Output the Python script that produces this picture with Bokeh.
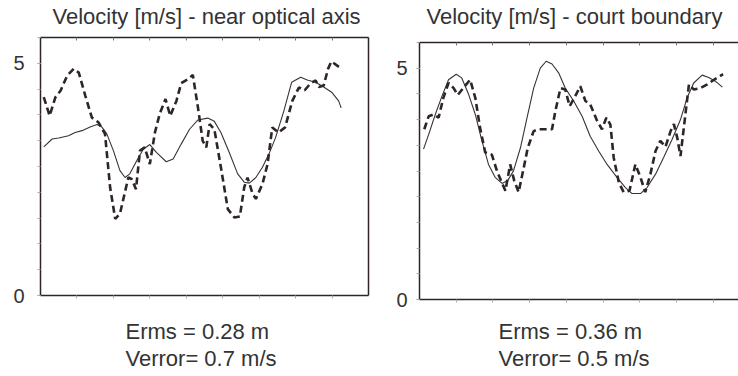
from bokeh.plotting import figure
from bokeh.layouts import row, column
from bokeh.models import Range1d, LinearAxis, FixedTicker, Title, Spacer
from bokeh.embed import file_html
from bokeh.resources import INLINE

# ---- data ----
left_true_t = [0.09, 0.32, 0.5, 0.77, 0.95, 1.14, 1.36, 1.55, 1.68, 1.82, 2.0, 2.18, 2.32, 2.45, 2.64,
               2.82, 3.0, 3.18, 3.45, 3.64, 3.86, 4.09, 4.32, 4.59, 4.77, 4.95, 5.18, 5.41, 5.59, 5.73,
               5.91, 6.09, 6.27, 6.45, 6.68, 6.89, 7.14, 7.32, 7.55, 7.77, 8.0, 8.18, 8.25]
left_true_v = [3.20, 3.37, 3.39, 3.44, 3.51, 3.55, 3.63, 3.68, 3.63, 3.48, 3.12, 2.69, 2.54, 2.62, 2.90,
               3.15, 3.25, 3.08, 2.88, 2.94, 3.26, 3.58, 3.78, 3.82, 3.75, 3.51, 3.08, 2.62, 2.44, 2.42,
               2.54, 2.76, 3.05, 3.40, 3.98, 4.59, 4.70, 4.64, 4.59, 4.49, 4.37, 4.19, 4.04]
left_est_t = [0.09, 0.25, 0.41, 0.55, 0.73, 0.91, 1.05, 1.23, 1.41, 1.59, 1.77, 1.91, 2.05, 2.18, 2.41,
              2.5, 2.62, 2.73, 2.86, 3.0, 3.14, 3.27, 3.43, 3.56, 3.73, 3.86, 4.05, 4.18, 4.32, 4.45,
              4.55, 4.64, 4.77, 4.95, 5.14, 5.32, 5.47, 5.59, 5.68, 5.82, 5.91, 6.09, 6.23, 6.36, 6.53,
              6.71, 6.91, 7.09, 7.25, 7.41, 7.55, 7.64, 7.77, 7.89, 7.98, 8.14, 8.27]
left_est_v = [4.27, 3.87, 4.27, 4.41, 4.73, 4.88, 4.80, 4.30, 3.83, 3.73, 3.48, 2.33, 1.65, 1.76, 2.54,
              2.51, 2.29, 3.12, 3.19, 2.83, 3.51, 3.91, 4.23, 3.87, 4.19, 4.57, 4.66, 4.75, 4.05, 3.33,
              3.19, 3.69, 3.58, 2.76, 1.86, 1.68, 1.70, 2.33, 2.54, 2.19, 2.08, 2.40, 2.83, 3.62, 3.51,
              3.62, 4.19, 4.48, 4.42, 4.57, 4.63, 4.49, 4.52, 4.88, 5.04, 4.95, 4.88]

right_true_t = [0.11, 0.25, 0.43, 0.61, 0.79, 1.0, 1.15, 1.34, 1.52, 1.7, 1.88, 2.06, 2.25, 2.4, 2.56,
                2.75, 2.93, 3.11, 3.29, 3.45, 3.61, 3.79, 3.97, 4.2, 4.43, 4.65, 4.88, 5.11, 5.38, 5.61,
                5.79, 6.02, 6.2, 6.43, 6.65, 6.88, 7.11, 7.29, 7.47, 7.7, 7.88, 8.06, 8.25]
right_true_v = [3.25, 3.57, 4.0, 4.39, 4.75, 4.87, 4.79, 4.43, 4.0, 3.43, 2.92, 2.64, 2.51, 2.57, 2.78,
                3.28, 3.93, 4.57, 5.0, 5.15, 5.09, 4.90, 4.57, 4.29, 3.96, 3.53, 3.21, 2.92, 2.64, 2.42,
                2.29, 2.29, 2.42, 2.71, 3.07, 3.46, 3.89, 4.36, 4.68, 4.85, 4.80, 4.72, 4.59]
right_est_t = [0.13, 0.25, 0.38, 0.52, 0.65, 0.79, 0.93, 1.04, 1.18, 1.38, 1.52, 1.65, 1.79, 1.97, 2.11,
               2.22, 2.34, 2.47, 2.58, 2.7, 2.84, 2.95, 3.11, 3.25, 3.47, 3.61, 3.7, 3.84, 3.97, 4.09,
               4.22, 4.38, 4.52, 4.65, 4.84, 4.97, 5.09, 5.2, 5.29, 5.43, 5.56, 5.72, 5.88, 6.02, 6.15,
               6.29, 6.43, 6.56, 6.7, 6.84, 6.93, 7.02, 7.11, 7.2, 7.34, 7.47, 7.65, 7.84, 8.02, 8.27]
right_est_v = [3.68, 3.96, 4.0, 3.93, 4.36, 4.68, 4.57, 4.42, 4.56, 4.75, 4.36, 3.71, 3.18, 3.13, 2.78,
               2.57, 2.35, 2.92, 2.57, 2.32, 2.85, 3.28, 3.64, 3.68, 3.68, 3.68, 4.07, 4.57, 4.54, 4.18,
               4.36, 4.61, 4.29, 4.22, 3.86, 3.68, 3.93, 3.78, 3.07, 2.53, 2.32, 2.35, 2.92, 2.64, 2.32,
               2.71, 3.21, 3.43, 3.30, 3.64, 3.79, 3.50, 3.10, 3.71, 4.65, 4.54, 4.57, 4.65, 4.75, 4.87]

titles = ["Velocity [m/s] - near optical axis", "Velocity [m/s] - court boundary"]
erms = ["Erms = 0.28 m", "Erms = 0.36 m"]
verror = ["Verror= 0.7 m/s", "Verror= 0.5 m/s"]
x_ticks = [1, 2, 3, 4, 5, 6, 7, 8]
y_labels = [0, 5]
y_minor = [k * 5 / 9 for k in range(11)]

FONT = "Liberation Sans"
TXT = "#333333"
FRAME = "#2e2429"
TICK = "#aaaaaa"

# per-panel layout settings (pixels)
panel_cfg = [
    dict(width=378, height=372, x_end=9.0, mb_left=40, mb_right=10, mb_top=37, mb_bottom=77,
         right_line=True, top_gap=5, bottom_gap=14, title_off=12, erms_off=85, verr_off=85,
         ylab_stand=13),
    dict(width=360, height=375, x_end=8.69, mb_left=41, mb_right=0, mb_top=41, mb_bottom=77,
         right_line=False, top_gap=10, bottom_gap=10, title_off=7, erms_off=79, verr_off=79,
         ylab_stand=9),
]


def bare_axis(axis, gap=None):
    axis.axis_line_color = FRAME
    axis.axis_line_width = 1.5
    axis.major_label_text_font_size = "0px"
    axis.major_label_text_color = None
    axis.major_label_standoff = 0
    if gap is None:
        axis.axis_label = None
        axis.axis_label_standoff = 0
    else:
        # blank, tiny axis label: only reserves a gap between frame and the text panels
        axis.axis_label = " "
        axis.axis_label_text_font_size = "1px"
        axis.axis_label_standoff = gap
    return axis


def make(idx, t1, v1, t2, v2, cfg):
    p = figure(width=cfg["width"], height=cfg["height"], output_backend="svg", toolbar_location=None,
               x_range=Range1d(0, cfg["x_end"]), y_range=Range1d(0, 50 / 9),
               x_axis_location=None, y_axis_location=None,
               min_border_left=cfg["mb_left"], min_border_right=cfg["mb_right"],
               min_border_top=cfg["mb_top"], min_border_bottom=cfg["mb_bottom"])
    p.outline_line_color = None
    p.grid.visible = False
    p.background_fill_color = "white"
    p.border_fill_color = "white"

    ya = LinearAxis(ticker=FixedTicker(ticks=y_labels, minor_ticks=y_minor))
    ya.axis_line_color = FRAME
    ya.axis_line_width = 1.5
    ya.major_tick_out = 3
    ya.major_tick_in = 0
    ya.minor_tick_out = 3
    ya.minor_tick_in = 0
    ya.major_tick_line_color = TICK
    ya.minor_tick_line_color = TICK
    ya.major_label_text_font = FONT
    ya.major_label_text_font_size = "20px"
    ya.major_label_text_color = TXT
    ya.major_label_standoff = cfg["ylab_stand"]
    p.add_layout(ya, "left")

    xa = bare_axis(LinearAxis(ticker=FixedTicker(ticks=x_ticks, minor_ticks=[])), cfg["bottom_gap"])
    xa.major_tick_out = 3
    xa.major_tick_in = 0
    xa.major_tick_line_color = TICK
    p.add_layout(xa, "below")

    ta = bare_axis(LinearAxis(ticker=FixedTicker(ticks=x_ticks, minor_ticks=[])), cfg["top_gap"])
    ta.major_tick_out = 0
    ta.major_tick_in = 3
    ta.major_tick_line_color = "#777777"
    p.add_layout(ta, "above")

    if cfg["right_line"]:
        ra = bare_axis(LinearAxis(ticker=FixedTicker(ticks=[])))
        ra.major_tick_out = 0
        p.add_layout(ra, "right")

    common = dict(align="left", text_font=FONT, text_font_size="22px",
                  text_font_style="normal", text_color=TXT, standoff=0)
    p.title = Title(text=titles[idx], offset=cfg["title_off"], **common)
    p.add_layout(Title(text=erms[idx], offset=cfg["erms_off"], **common), "below")
    p.add_layout(Title(text=verror[idx], offset=cfg["verr_off"], **common), "below")

    p.line(t1, v1, line_color="#3a3236", line_width=1.1)
    p.line(t2, v2, line_color="#2d2529", line_width=2.6, line_dash="7 4")
    return p


p1 = make(0, left_true_t, left_true_v, left_est_t, left_est_v, panel_cfg[0])
p2 = make(1, right_true_t, right_true_v, right_est_t, right_est_v, panel_cfg[1])

layout = row(column(p1), column(Spacer(width=360, height=1), p2))
open("out.html", "w").write(file_html(layout, INLINE))
